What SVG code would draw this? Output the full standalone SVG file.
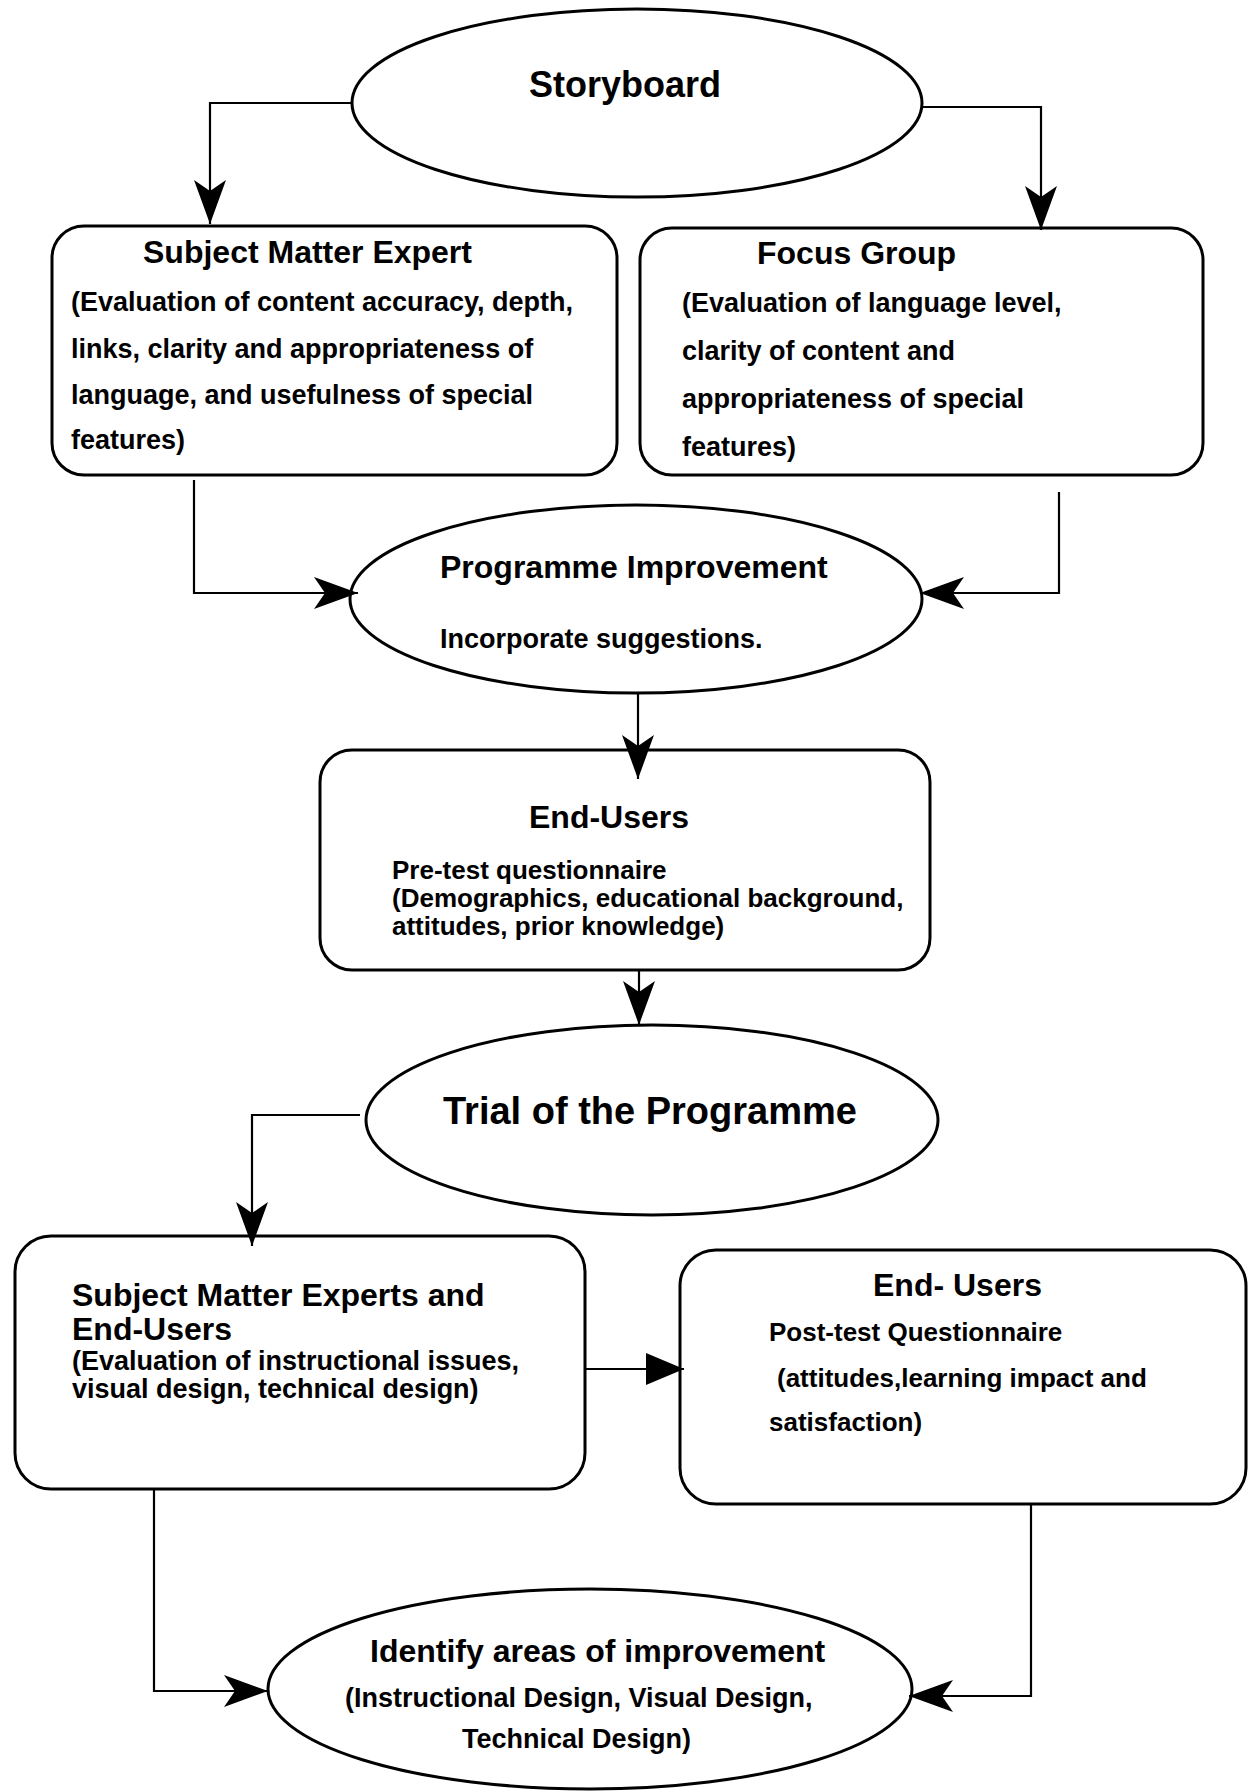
<svg xmlns="http://www.w3.org/2000/svg" width="1248" height="1792" viewBox="0 0 1248 1792">
  <style>
    .shape { fill: #ffffff; stroke: #000000; stroke-width: 3; }
    .link { fill: none; stroke: #000000; stroke-width: 2.2; }
    text { font-family: "Liberation Sans", Arial, Helvetica, sans-serif; font-weight: bold; fill: #000000; }
    .t36 { font-size: 36px; }
    .t38 { font-size: 38px; }
    .t32 { font-size: 32px; }
    .t27 { font-size: 27px; }
    .t26 { font-size: 26px; }
  </style>
  <defs>
    <!-- concave-backed arrowhead -->
    <marker id="barb" viewBox="0 0 44 32" refX="44" refY="16" markerWidth="44" markerHeight="32" markerUnits="userSpaceOnUse" orient="auto">
      <path d="M0,0 L44,16 L0,32 L11,16 Z" fill="#000000"/>
    </marker>
    <!-- plain triangular arrowhead -->
    <marker id="tri" viewBox="0 0 38 32" refX="38" refY="16" markerWidth="38" markerHeight="32" markerUnits="userSpaceOnUse" orient="auto">
      <path d="M0,0 L38,16 L0,32 Z" fill="#000000"/>
    </marker>
  </defs>

  <rect width="1248" height="1792" fill="#ffffff"/>

  <g id="storyboard">
    <ellipse class="shape" cx="637" cy="103" rx="285" ry="94"/>
    <text class="t36" x="529" y="97">Storyboard</text>
  </g>

  <g id="subject-matter-expert">
    <rect class="shape" x="52" y="226" width="565" height="249" rx="32" ry="32"/>
    <text class="t32" x="143" y="263">Subject Matter Expert</text>
    <text class="t27" x="71" y="311">(Evaluation of content accuracy, depth,</text>
    <text class="t27" x="71" y="358">links, clarity and appropriateness of</text>
    <text class="t27" x="71" y="404">language, and usefulness of special</text>
    <text class="t27" x="71" y="449">features)</text>
  </g>

  <g id="focus-group">
    <rect class="shape" x="640" y="228" width="563" height="247" rx="32" ry="32"/>
    <text class="t32" x="757" y="264">Focus Group</text>
    <text class="t27" x="682" y="312">(Evaluation of language level,</text>
    <text class="t27" x="682" y="360">clarity of content and</text>
    <text class="t27" x="682" y="408">appropriateness of special</text>
    <text class="t27" x="682" y="456">features)</text>
  </g>

  <g id="programme-improvement">
    <ellipse class="shape" cx="636" cy="599" rx="286" ry="94"/>
    <text class="t32" x="440" y="578">Programme Improvement</text>
    <text class="t27" x="440" y="648">Incorporate suggestions.</text>
  </g>

  <g id="end-users-pretest">
    <rect class="shape" x="320" y="750" width="610" height="220" rx="32" ry="32"/>
    <text class="t32" x="529" y="828">End-Users</text>
    <text class="t26" x="392" y="879">Pre-test questionnaire</text>
    <text class="t26" x="392" y="907">(Demographics, educational background,</text>
    <text class="t26" x="392" y="935">attitudes, prior knowledge)</text>
  </g>

  <g id="trial">
    <ellipse class="shape" cx="652" cy="1120" rx="286" ry="95"/>
    <text class="t38" x="443" y="1124">Trial of the Programme</text>
  </g>

  <g id="experts-and-users">
    <rect class="shape" x="15" y="1236" width="570" height="253" rx="36" ry="36"/>
    <text class="t32" x="72" y="1306">Subject Matter Experts and</text>
    <text class="t32" x="72" y="1340">End-Users</text>
    <text class="t27" x="72" y="1370">(Evaluation of instructional issues,</text>
    <text class="t27" x="72" y="1398">visual design, technical design)</text>
  </g>

  <g id="end-users-posttest">
    <rect class="shape" x="680" y="1250" width="566" height="254" rx="36" ry="36"/>
    <text class="t32" x="873" y="1296">End- Users</text>
    <text class="t26" x="769" y="1341">Post-test Questionnaire</text>
    <text class="t26" x="777" y="1387">(attitudes,learning impact and</text>
    <text class="t26" x="769" y="1431">satisfaction)</text>
  </g>

  <g id="identify-improvement">
    <ellipse class="shape" cx="590" cy="1689" rx="322" ry="100"/>
    <text class="t32" x="370" y="1662">Identify areas of improvement</text>
    <text class="t27" x="345" y="1707">(Instructional Design, Visual Design,</text>
    <text class="t27" x="462" y="1748">Technical Design)</text>
  </g>

  <!-- connectors, drawn over the nodes so arrowheads stay whole -->
  <g id="connectors">
    <path class="link" d="M352,103 H210 V224" marker-end="url(#barb)"/>
    <path class="link" d="M922,107 H1041 V230" marker-end="url(#barb)"/>
    <path class="link" d="M194,480 V593 H358" marker-end="url(#barb)"/>
    <path class="link" d="M1059,492 V593 H920" marker-end="url(#barb)"/>
    <path class="link" d="M638,693 V779" marker-end="url(#barb)"/>
    <path class="link" d="M639,970 V1025" marker-end="url(#barb)"/>
    <path class="link" d="M360,1115 H252 V1246" marker-end="url(#barb)"/>
    <path class="link" d="M585,1369 H684" marker-end="url(#tri)"/>
    <path class="link" d="M154,1489 V1691 H268" marker-end="url(#barb)"/>
    <path class="link" d="M1031,1504 V1696 H909" marker-end="url(#barb)"/>
  </g>
</svg>
